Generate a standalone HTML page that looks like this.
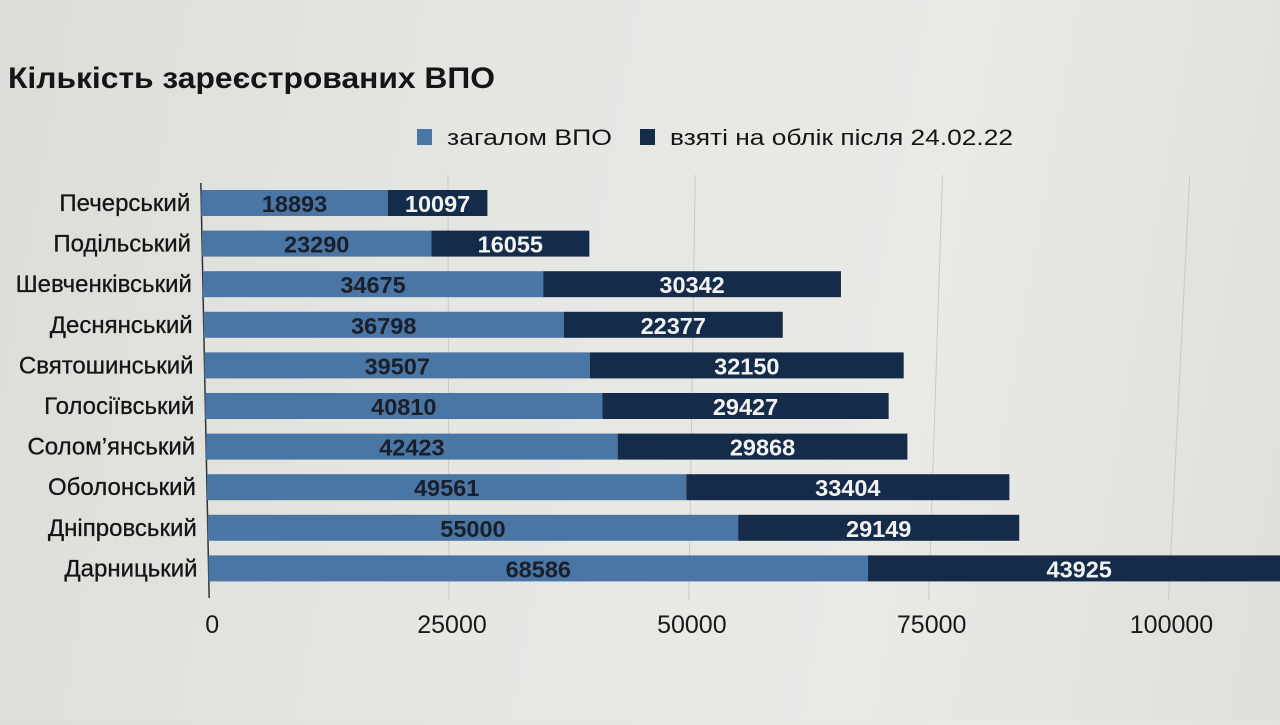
<!DOCTYPE html>
<html><head><meta charset="utf-8">
<style>
html,body{margin:0;padding:0;}
body{width:1280px;height:720px;overflow:hidden;background:linear-gradient(100deg,#dcdcd9 0%,#e6e6e3 40%,#e9e9e6 70%,#dededb 100%);font-family:"Liberation Sans",sans-serif;}
</style></head>
<body>
<svg id="chart" width="1280" height="720" xmlns="http://www.w3.org/2000/svg">
  <text x="8" y="88" font-size="30" font-weight="bold" fill="#151515" textLength="487" lengthAdjust="spacingAndGlyphs">Кількість зареєстрованих ВПО</text>
  <g>
    <rect x="417" y="129" width="15" height="16" fill="#4a76a6"/>
    <text x="447" y="145" font-size="22" fill="#151515" textLength="165" lengthAdjust="spacingAndGlyphs">загалом ВПО</text>
    <rect x="640" y="129" width="15" height="16" fill="#142c4a"/>
    <text x="670" y="145" font-size="22" fill="#151515" textLength="343" lengthAdjust="spacingAndGlyphs">взяті на облік після 24.02.22</text>
  </g>
  <g id="plot"></g>
</svg>
<script>
const categories = ["Печерський","Подільський","Шевченківський","Деснянський","Святошинський","Голосіївський","Солом’янський","Оболонський","Дніпровський","Дарницький"];
const totalValues = [18893,23290,34675,36798,39507,40810,42423,49561,55000,68586];
const afterValues = [10097,16055,30342,22377,32150,29427,29868,33404,29149,43925];
const tickValues = [0,25000,50000,75000,100000];
const tickLabels = ["0","25000","50000","75000","100000"];

const NS="http://www.w3.org/2000/svg";
const plot=document.getElementById('plot');
const originAt=yy=>201+(yy-190)*0.02;
const scaleAt=yy=>0.00988-(yy-190)*0.0000007;
const xAt=(v,yy)=>originAt(yy)+v*scaleAt(yy);
const rowTop=190, rowStep=40.6, barH=26;
const y=i=>rowTop+i*rowStep;
function mk(tag,attrs){const e=document.createElementNS(NS,tag);for(const k in attrs)e.setAttribute(k,attrs[k]);return e;}

tickValues.forEach((t,i)=>{
  if(i>0){
    const g=mk('line',{x1:xAt(t,175),x2:xAt(t,600),y1:175,y2:600,stroke:'#c8c8c5','stroke-width':1});
    
    
    plot.appendChild(g);
  }
  const tl=mk('text',{x:xAt(t,600)+3,y:633,'font-size':25,'text-anchor':'middle',fill:'#1a1a1a'});
  
  
  tl.textContent=tickLabels[i];
  plot.appendChild(tl);
});
const ax=mk('line',{x1:originAt(183),x2:originAt(598),y1:183,y2:598,stroke:'#333','stroke-width':1.5});


plot.appendChild(ax);

categories.forEach((c,i)=>{
  const yy=y(i), ym=yy+barH/2;
  const X=v=>xAt(v,ym);
  const lab=mk('text',{x:X(0)-11,y:yy+21,'font-size':24,'text-anchor':'end',fill:'#151515',stroke:'#151515','stroke-width':0.3});
  
  
  lab.textContent=c;
  plot.appendChild(lab);
  const a=totalValues[i], b=afterValues[i];
  const r1=mk('rect',{x:X(0),y:yy,width:X(a)-X(0),height:barH,fill:'#4a76a6'});
  
  
  plot.appendChild(r1);
  const r2=mk('rect',{x:X(a),y:yy,width:X(a+b)-X(a),height:barH,fill:'#142c4a'});
  
  
  plot.appendChild(r2);
  const t1=mk('text',{x:X(a/2),y:yy+22,'font-size':23.5,'font-weight':'bold','text-anchor':'middle',fill:'#1a1f2a'});
  
  
  t1.textContent=a;
  plot.appendChild(t1);
  const t2=mk('text',{x:X(a+b/2),y:yy+22,'font-size':23.5,'font-weight':'bold','text-anchor':'middle',fill:'#f2f2f2'});
  
  
  t2.textContent=b;
  plot.appendChild(t2);
});
</script>
</body></html>
